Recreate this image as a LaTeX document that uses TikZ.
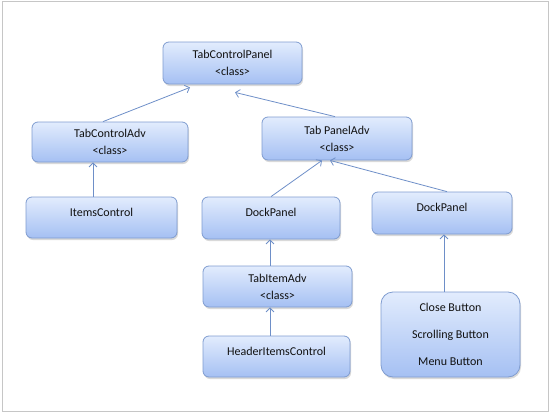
\documentclass[tikz,border=0pt]{standalone}
\usepackage{fontspec}
\setmainfont{Carlito}
\usetikzlibrary{arrows, arrows.meta}
\usetikzlibrary{shadows}

\definecolor{boxtop}{HTML}{E2ECFD}
\definecolor{boxbottom}{HTML}{A5C0F3}
\definecolor{boxline}{HTML}{7F9CD0}
\definecolor{linkblue}{HTML}{6E8FC8}
\definecolor{textgray}{HTML}{111111}

\tikzset{
  classbox/.style={rectangle, rounded corners=6pt, draw=boxline, line width=0.8pt,
    top color=boxtop, bottom color=boxbottom, text=textgray,
    font=\fontsize{12}{17}\selectfont, align=center, inner sep=0pt,
    drop shadow={opacity=0.3, shadow xshift=1pt, shadow yshift=-2pt}},
  oneline/.style={text height=9pt, text depth=12pt},
  link/.style={draw=linkblue, line width=0.8pt, -{Straight Barb[length=4pt, width=8pt]}}
}

\begin{document}
\begin{tikzpicture}[x=1pt, y=-1pt]
    \useasboundingbox (0,0) rectangle (550,413);
    \draw[gray!45, line width=1pt] (2,1) rectangle (548,411.5);

    \node[classbox, minimum width=139pt, minimum height=42pt] (tcp) at (232.5,63) {TabControlPanel\\<class>};
    \node[classbox, minimum width=156pt, minimum height=40pt] (tca) at (110,142) {TabControlAdv\\<class>};
    \node[classbox, minimum width=150pt, minimum height=43pt] (tpa) at (337,138.5) {Tab PanelAdv\\<class>};
    \node[classbox, oneline, minimum width=151pt, minimum height=41pt] (ic) at (101.5,217.5) {ItemsControl};
    \node[classbox, oneline, minimum width=138pt, minimum height=42pt] (dpl) at (271,218) {DockPanel};
    \node[classbox, oneline, minimum width=140pt, minimum height=42pt] (dpr) at (442,213) {DockPanel};
    \node[classbox, minimum width=149pt, minimum height=41pt] (tia) at (277.5,286.5) {TabItemAdv\\<class>};
    \node[classbox, oneline, minimum width=147pt, minimum height=41pt] (hic) at (276.5,356.5) {HeaderItemsControl};
    \node[classbox, minimum width=139pt, minimum height=85pt, rounded corners=12pt] (btn) at (450.5,334.5) {Close Button\\[10pt]Scrolling Button\\[10pt]Menu Button};

    \draw[link] ([xshift=-7pt]tca.north) -- ([xshift=-42.5pt, yshift=-3pt]tcp.south);
    \draw[link] ([xshift=-2pt]tpa.north) -- ([xshift=2.5pt, yshift=-8pt]tcp.south);
    \draw[link] ([xshift=-17pt]tca.south |- ic.north) -- ([xshift=-17pt]tca.south);

    \draw[link] (dpl.north) -- ([xshift=-15pt]tpa.south);
    \draw[link] ([xshift=5pt]dpr.north) -- ([xshift=-7pt]tpa.south);

    \draw[link] ([xshift=-1pt]dpl.south |- tia.north) -- ([xshift=-1pt]dpl.south);
    \draw[link] ([xshift=-1pt]dpl.south |- hic.north) -- ([xshift=-7.5pt]tia.south);
    \draw[link] ([xshift=2pt]dpr.south |- btn.north) -- ([xshift=2pt]dpr.south);
\end{tikzpicture}
\end{document}
